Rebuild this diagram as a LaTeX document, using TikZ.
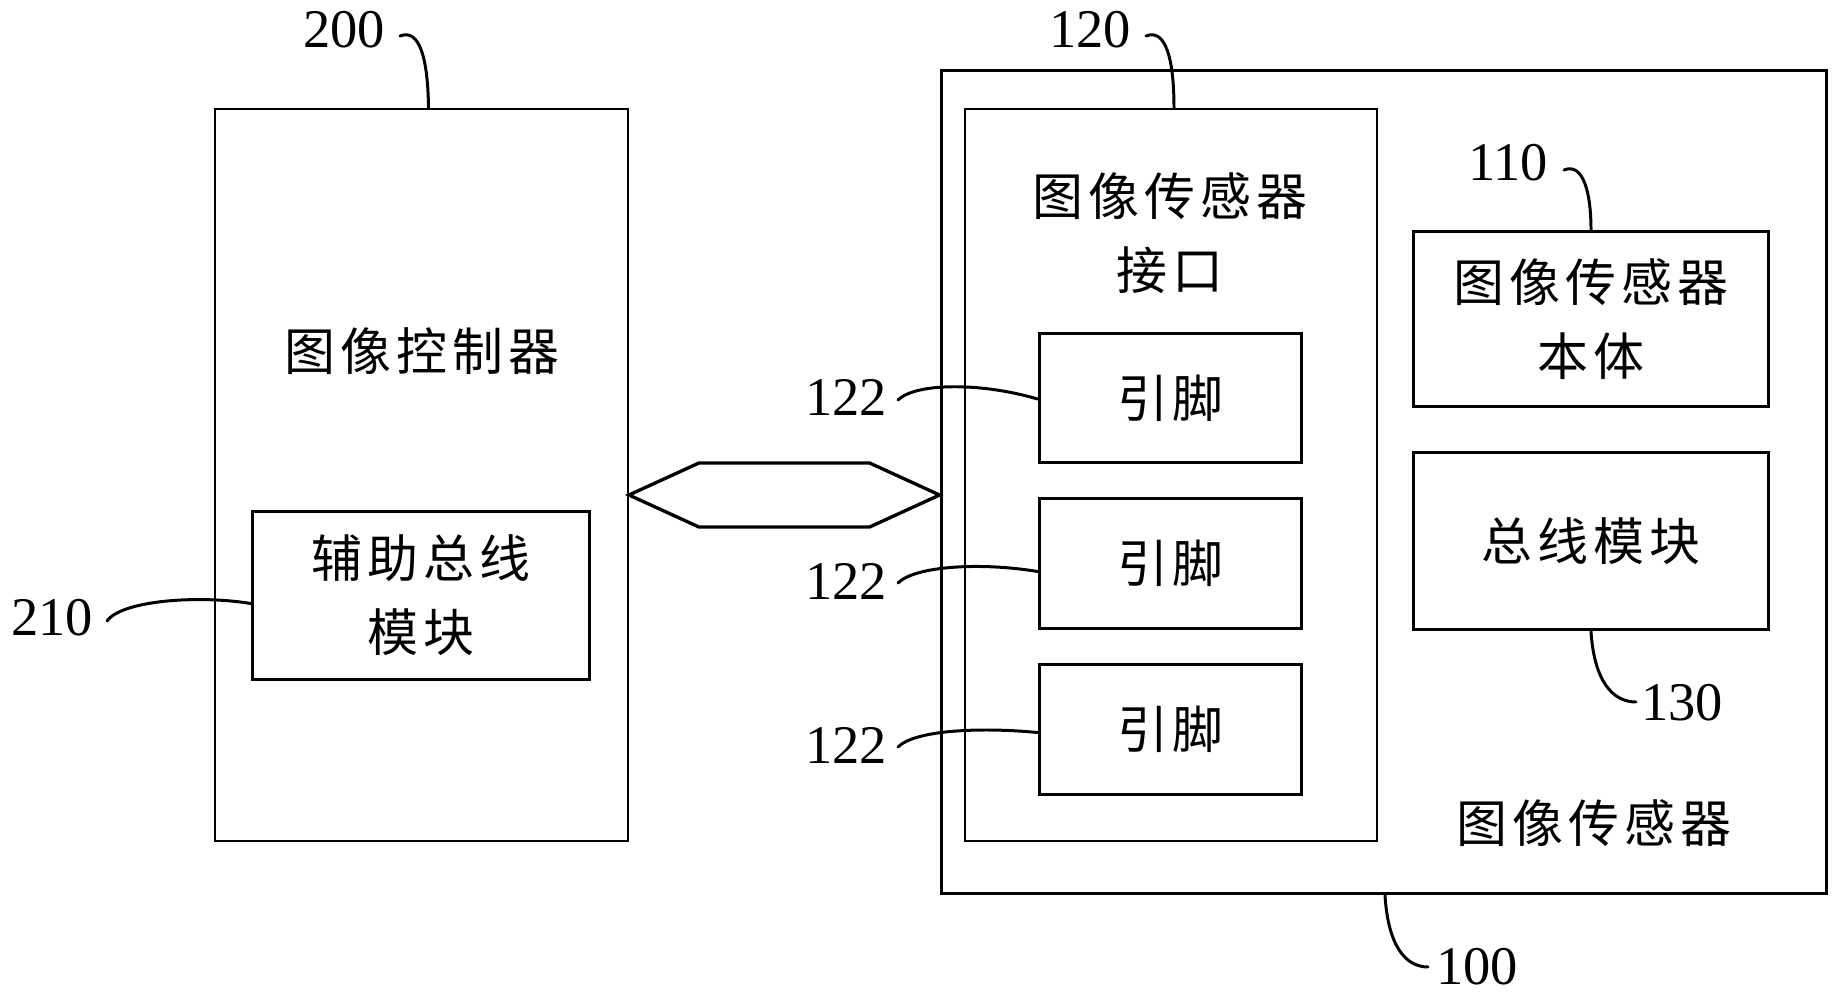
\documentclass[tikz,border=0pt]{standalone}
\usepackage{fontspec}
\setmainfont{Liberation Serif}
\newfontfamily\cjk{Noto Sans CJK SC}[LetterSpace=9.5]
\usetikzlibrary{calc}
\begin{document}
\begin{tikzpicture}[x=0.02cm,y=-0.02cm,
  thinbox/.style={draw,line width=1.1pt,inner sep=0},
  thickbox/.style={draw,line width=1.7pt,inner sep=0},
  cjktext/.style={font=\cjk\fontsize{29}{42}\selectfont,align=center,inner sep=0},
  numlabel/.style={font=\fontsize{31}{31}\selectfont,inner sep=0},
  leader/.style={line width=1.7pt,line cap=round},
  busline/.style={line width=1.9pt,line join=miter}]
\useasboundingbox (0,0) rectangle (1839,1000);

% image controller 200
\node[thinbox,minimum width=8.26cm,minimum height=14.64cm] (ctrl) at (421.5,475) {};
\node[cjktext] (ctrltxt) at (422,351) {图像控制器};
\node[thickbox,cjktext,minimum width=6.76cm,minimum height=3.38cm] (aux) at (421,595.5) {辅助总线\\模块};

% image sensor 100
\node[thickbox,minimum width=17.72cm,minimum height=16.48cm] (sensor) at (1384,482) {};
\node[thinbox,minimum width=8.24cm,minimum height=14.64cm] (iface) at (1171,475) {};
\node[cjktext] (ifacetxt) at (1170,233) {图像传感器\\接口};
\node[thickbox,cjktext,minimum width=5.26cm,minimum height=2.6cm] (pin1) at (1170.5,398) {引脚};
\node[thickbox,cjktext,minimum width=5.26cm,minimum height=2.6cm] (pin2) at (1170.5,563.5) {引脚};
\node[thickbox,cjktext,minimum width=5.26cm,minimum height=2.6cm] (pin3) at (1170.5,729.5) {引脚};
\node[thickbox,cjktext,minimum width=7.12cm,minimum height=3.52cm] (body) at (1591,319) {图像传感器\\本体};
\node[thickbox,cjktext,minimum width=7.12cm,minimum height=3.56cm] (busmod) at (1591,541) {总线模块};
\node[cjktext] (sensortxt) at (1594,823) {图像传感器};

% bus between controller and sensor
\coordinate (hl) at ($(ctrl.east)+(0,20)$);
\coordinate (hr) at ($(sensor.west)+(0,13)$);
\draw[busline] (hl) -- ($(hl)+(70,-32)$) -- ($(hr)+(-70,-32)$) -- (hr)
  -- ($(hr)+(-70,32)$) -- ($(hl)+(70,32)$) -- cycle;

% reference numerals
\node[numlabel] (n200) at (344,30) {200};
\node[numlabel] (n120) at (1090,30) {120};
\node[numlabel] (n110) at (1508,163) {110};
\node[numlabel] (n130) at (1682,703) {130};
\node[numlabel] (n100) at (1477,967) {100};
\node[numlabel] (n210) at (52,618) {210};
\node[numlabel] (n122a) at (846,397) {122};
\node[numlabel] (n122b) at (846,581) {122};
\node[numlabel] (n122c) at (846,745) {122};

% leader lines
\coordinate (s200) at (400,36);
\draw[leader] (s200) .. controls (420,28) and (428,60) .. ($(ctrl.north)+(7,0)$);
\coordinate (s120) at (1146,36);
\draw[leader] (s120) .. controls (1166,28) and (1174,60) .. ($(iface.north)+(3,0)$);
\coordinate (s110) at (1564,170);
\draw[leader] (s110) .. controls (1584,162) and (1591,195) .. (body.north);
\coordinate (e130) at (1636,702);
\draw[leader] (busmod.south) .. controls (1594,680) and (1612,702) .. (e130);
\coordinate (e100) at (1428,967);
\draw[leader] ($(sensor.south)+(1,0)$) .. controls (1388,945) and (1405,967) .. (e100);
\coordinate (s210) at (107,621);
\draw[leader] (s210) .. controls (122,600) and (200,595) .. ($(aux.west)+(0,8)$);
\coordinate (s122a) at (898,400);
\draw[leader] (s122a) .. controls (915,383) and (980,382) .. ($(pin1.west)+(0,1)$);
\coordinate (s122b) at (898,583);
\draw[leader] (s122b) .. controls (915,566) and (980,562) .. ($(pin2.west)+(0,8)$);
\coordinate (s122c) at (898,747);
\draw[leader] (s122c) .. controls (915,730) and (980,727) .. ($(pin3.west)+(0,3)$);
\end{tikzpicture}
\end{document}
